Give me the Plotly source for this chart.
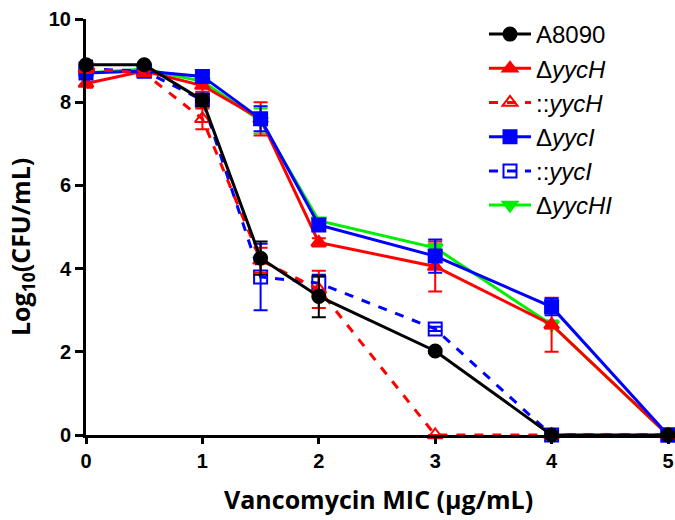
import plotly.graph_objects as go

x = [0, 0.5, 1, 1.5, 2, 3, 4, 5]

names = ["A8090", "Δ<i>yycH</i>", "::<i>yycH</i>", "Δ<i>yycI</i>", "::<i>yycI</i>", "Δ<i>yycHI</i>"]

a8090 = [8.9, 8.9, 8.05, 4.25, 3.33, 2.02, 0, 0]
a8090_err = [0.1, 0.05, 0.15, 0.4, 0.5, 0.05, 0, 0]

d_yycH = [8.45, 8.75, 8.4, 7.6, 4.63, 4.05, 2.65, 0]
d_yycH_err = [0.1, 0.1, 0.15, 0.4, 0.1, 0.6, 0.65, 0]

c_yycH = [8.8, 8.7, 7.6, 4.2, 3.5, 0, 0, 0]
c_yycH_err = [0.1, 0.05, 0.25, 0.3, 0.45, 0, 0, 0]

d_yycI = [8.7, 8.75, 8.62, 7.6, 5.05, 4.3, 3.08, 0]
d_yycI_err = [0.1, 0.08, 0.1, 0.3, 0.1, 0.4, 0.2, 0]

c_yycI = [8.8, 8.75, 8.05, 3.8, 3.65, 2.55, 0, 0]
c_yycI_err = [0.1, 0.05, 0.1, 0.8, 0.2, 0.05, 0, 0]

d_yycHI = [8.7, 8.8, 8.5, 7.55, 5.15, 4.5, 2.65, 0]
d_yycHI_err = [0.05, 0.05, 0.05, 0.3, 0.05, 0.1, 0.1, 0]

yticks = [0, 2, 4, 6, 8, 10]
xticks = [0, 1, 2, 3, 4, 5]

x_title = "Vancomycin MIC (µg/mL)"
y_title = "Log<sub>10</sub>(CFU/mL)"

series = [
    # draw order: green, red solid, blue solid, blue dashed, red dashed, black
    (names[5], d_yycHI, d_yycHI_err, "#00ee00", "solid", "triangle-down", 6),
    (names[1], d_yycH, d_yycH_err, "#ff0000", "solid", "triangle-up", 2),
    (names[3], d_yycI, d_yycI_err, "#0000ff", "solid", "square", 4),
    (names[4], c_yycI, c_yycI_err, "#0000ff", "dash", "square-open", 5),
    (names[2], c_yycH, c_yycH_err, "#ff0000", "dash", "triangle-up-open", 3),
    (names[0], a8090, a8090_err, "#000000", "solid", "circle", 1),
]

fig = go.Figure()
for name, ys, err, color, dash, sym, rank in series:
    fig.add_trace(go.Scatter(
        x=x, y=ys, name=name, mode="lines+markers",
        line=dict(color=color, width=3, dash=dash),
        marker=dict(symbol=sym, size=13, color=color,
                    line=dict(color=color, width=2)),
        error_y=dict(type="data", array=err, visible=True, color=color,
                     thickness=2, width=7),
        cliponaxis=False, legendrank=rank, legendgroup=name,
    ))

L, R, T, B = 86, 7, 19, 85
PW = 675 - L - R
PH = 520 - T - B

fig.update_layout(
    width=675, height=520,
    margin=dict(l=L, r=R, t=T, b=B, autoexpand=False),
    plot_bgcolor="white", paper_bgcolor="white",
    font=dict(family="Liberation Sans, Arial", color="black"),
    showlegend=True,
    legend=dict(x=(484 - L) / PW, y=(435 - 12) / PH, xanchor="left", yanchor="top",
                font=dict(size=24, family="Liberation Sans, Arial"),
                itemwidth=42, tracegroupgap=0, bgcolor="rgba(0,0,0,0)"),
    xaxis=dict(range=[0, 5], tickvals=xticks, ticktext=[f"<b>{v}</b>" for v in xticks],
               showline=True, linecolor="black", automargin=False,
               linewidth=3, ticks="outside", ticklen=6, tickwidth=3,
               tickcolor="black", showgrid=False, zeroline=False,
               ticklabeloverflow="allow",
               tickfont=dict(size=20)),
    yaxis=dict(range=[0, 10], tickvals=yticks, ticktext=[f"<b>{v}</b>" for v in yticks],
               showline=True, linecolor="black", automargin=False,
               linewidth=3, ticks="outside", ticklen=8, tickwidth=3,
               tickcolor="black", showgrid=False, zeroline=False,
               ticklabeloverflow="allow",
               tickfont=dict(size=20)),
    annotations=[
        dict(text=f"<b>{y_title}</b>", textangle=-90,
             xref="paper", yref="paper", xanchor="center", yanchor="middle",
             x=(21 - L) / PW, y=(435 - 247) / PH, showarrow=False,
             font=dict(family="Open Sans", size=25)),
        dict(text=f"<b>{x_title}</b>",
             xref="paper", yref="paper", xanchor="center", yanchor="middle",
             x=(378 - L) / PW, y=(435 - 499) / PH, showarrow=False,
             font=dict(family="Open Sans", size=25)),
    ],
)

fig.write_html("out.html", config={"displayModeBar": False},
               post_script="document.body.style.margin='0';document.body.style.padding='0';")
